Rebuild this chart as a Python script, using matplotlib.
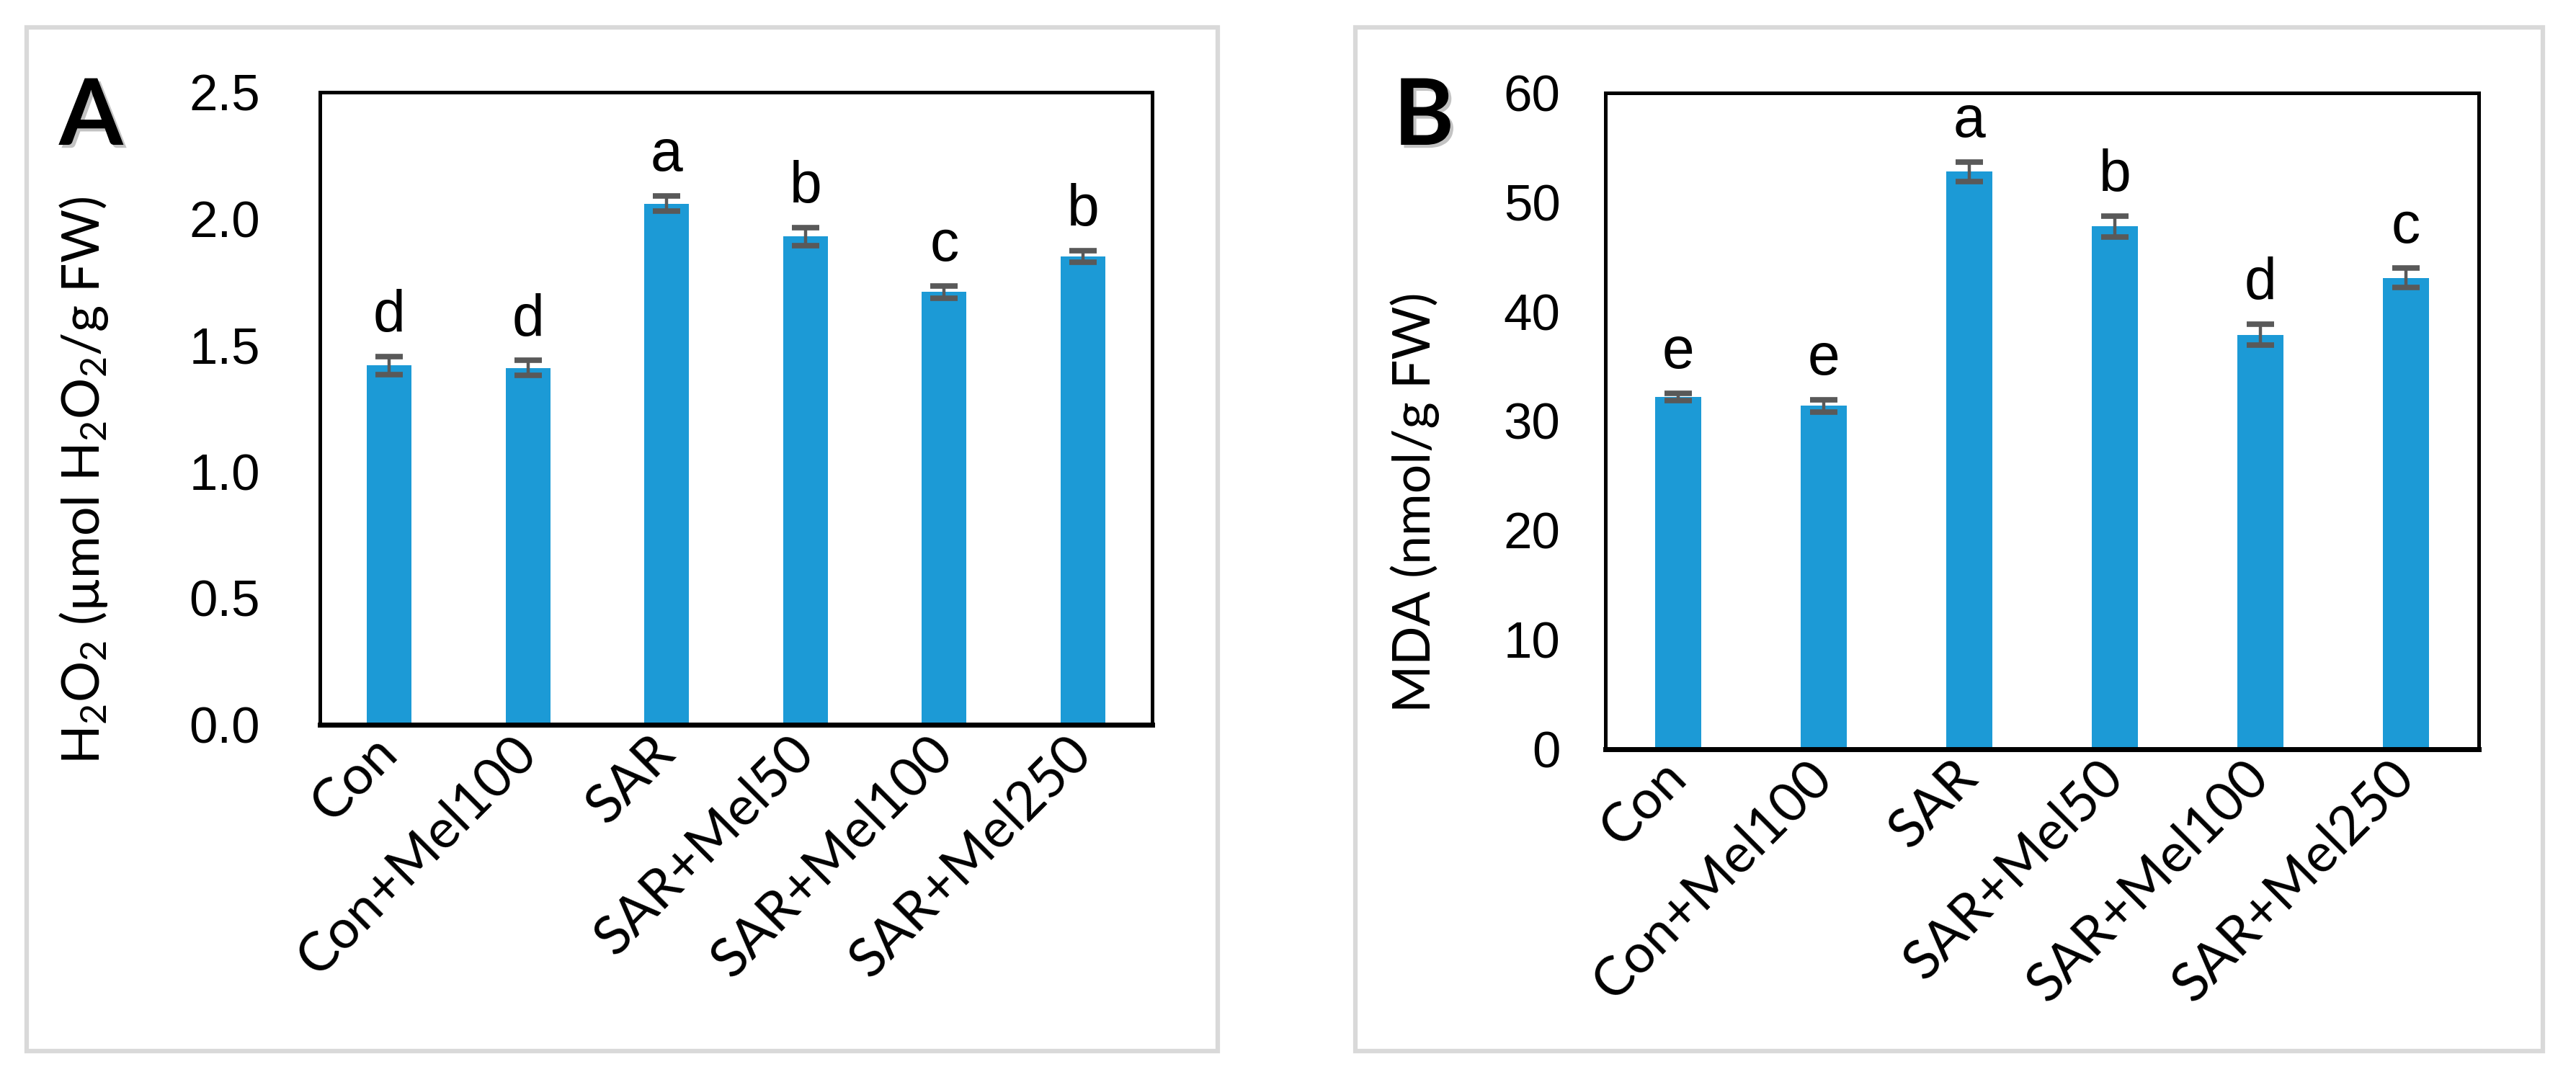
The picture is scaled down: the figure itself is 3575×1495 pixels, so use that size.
import matplotlib
matplotlib.use('Agg')
import matplotlib.pyplot as plt
import matplotlib.transforms as mtransforms
from matplotlib import font_manager
from matplotlib.patches import Rectangle
import matplotlib.patheffects as pe
import numpy as np

# data
treatments = ['Con', 'Con+Mel100', 'SAR', 'SAR+Mel50', 'SAR+Mel100', 'SAR+Mel250']

h2o2 = [1.42, 1.41, 2.06, 1.93, 1.71, 1.85]
h2o2_err = [0.035, 0.03, 0.03, 0.036, 0.024, 0.023]
h2o2_letters = ['d', 'd', 'a', 'b', 'c', 'b']

mda = [32.2, 31.4, 52.8, 47.8, 37.9, 43.1]
mda_err = [0.35, 0.55, 0.9, 0.95, 0.95, 0.9]
mda_letters = ['e', 'e', 'a', 'b', 'd', 'c']

BAR = '#1C9AD6'
ERR = '#595959'
BORDER = '#D9D9D9'

# pick fonts that are really there
installed = {f.name for f in font_manager.fontManager.ttflist}


def pick(*names):
    for n in names:
        if n in installed:
            return n
    return 'DejaVu Sans'


NARROW = pick('Liberation Sans Narrow', 'Liberation Sans', 'Roboto')
LABEL = pick('Lato', 'Open Sans', 'Noto Sans')

plt.rcParams['mathtext.fontset'] = 'custom'
plt.rcParams['mathtext.rm'] = LABEL
plt.rcParams['mathtext.it'] = LABEL

W, H = 3575, 1495
fig = plt.figure(figsize=(W / 100, H / 100), dpi=100)
fig.patch.set_facecolor('white')


def px_axes(left, top, right, bottom):
    return fig.add_axes([left / W, 1 - bottom / H, (right - left) / W, (bottom - top) / H])


def border(left, top, right, bottom):
    fig.add_artist(Rectangle((left / W, 1 - bottom / H), (right - left) / W, (bottom - top) / H,
                             transform=fig.transFigure, fill=False, ec=BORDER, lw=4.5))


def draw_panel(ax, values, errs, letters, ymax, yticks, fmt, ypad):
    x = np.arange(len(treatments))
    ax.bar(x, values, width=0.32, color=BAR, zorder=2)
    ax.errorbar(x, values, yerr=errs, fmt='none', ecolor=ERR, elinewidth=3.2,
                capsize=13.5, capthick=5.5, zorder=3)
    for xi, v, e, t in zip(x, values, errs, letters):
        ax.annotate(t, (xi, v + e), xytext=(0, 25), textcoords='offset points',
                    ha='center', va='baseline', fontsize=58, family=NARROW)
    ax.set_xlim(-0.5, len(treatments) - 0.5)
    ax.set_ylim(0, ymax)
    ax.set_yticks(yticks)
    ax.set_yticklabels([fmt.format(t) for t in yticks], family=NARROW, fontsize=51)
    ax.set_xticks(x)
    ax.set_xticklabels(treatments, family=LABEL, fontsize=54, rotation=45,
                       ha='right', va='center', rotation_mode='anchor')
    offset = mtransforms.ScaledTranslation(30 / 100, -20 / 100, fig.dpi_scale_trans)
    for lab in ax.get_xticklabels():
        lab.set_transform(lab.get_transform() + offset)
    ax.tick_params(axis='both', length=0)
    ax.tick_params(axis='y', pad=ypad)
    ax.tick_params(axis='x', pad=20)
    for s in ['left', 'right', 'top']:
        ax.spines[s].set_linewidth(3.6)
        ax.spines[s].set_color('black')
    ax.spines['bottom'].set_linewidth(5)
    ax.spines['bottom'].set_color('black')


# panel A
border(37, 38, 1690, 1459)
axA = px_axes(444, 128, 1599, 1006)
draw_panel(axA, h2o2, h2o2_err, h2o2_letters, 2.5, [0, 0.5, 1.0, 1.5, 2.0, 2.5], '{:.1f}', 60)
fig.text(138 / W, 1 - 667 / H, r'H$\mathregular{_2}$O$\mathregular{_2}$ (µmol H$\mathregular{_2}$O$\mathregular{_2}$/g FW)',
         rotation=90, rotation_mode='anchor', ha='center', va='baseline',
         fontsize=51.5, family=LABEL)

# panel B
border(1881, 38, 3529, 1459)
axB = px_axes(2228, 129, 3440, 1040)
draw_panel(axB, mda, mda_err, mda_letters, 60, [0, 10, 20, 30, 40, 50, 60], '{:d}', 45)
fig.text(1985 / W, 1 - 697 / H, 'MDA (nmol/g FW)',
         rotation=90, rotation_mode='anchor', ha='center', va='baseline',
         fontsize=51.5, family=LABEL)

shadow = [pe.withSimplePatchShadow(offset=(3, -3), shadow_rgbFace='#888888', alpha=0.5)]
fig.text(82 / W, 1 - 201 / H, 'A', fontsize=92, fontweight='bold', family=LABEL,
         ha='left', va='baseline', path_effects=shadow)
fig.text(1934 / W, 1 - 201 / H, 'B', fontsize=92, fontweight='bold', family=LABEL,
         ha='left', va='baseline', path_effects=shadow)

fig.savefig('out.png', dpi=100, facecolor='white')
